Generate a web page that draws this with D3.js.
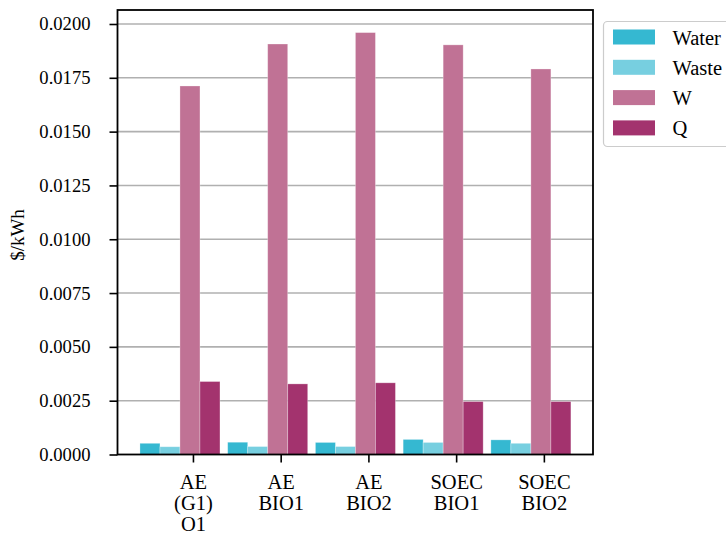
<!DOCTYPE html>
<html>
<head>
<meta charset="utf-8">
<script src="https://cdn.jsdelivr.net/npm/d3@7/dist/d3.min.js"></script>
<style>
  html, body { margin: 0; padding: 0; background: #fff; }
  svg { display: block; }
  svg text { font-family: "Liberation Serif", "Times New Roman", Times, "DejaVu Serif", serif !important; }
</style>
</head>
<body>
<svg id="chart" width="726" height="536"></svg>
<script>
// Cost components per configuration ($/kWh)
const categories = [["AE", "(G1)", "O1"], ["AE", "BIO1"], ["AE", "BIO2"], ["SOEC", "BIO1"], ["SOEC", "BIO2"]];
const seriesNames = ["Water", "Waste", "W", "Q"];
const water = [0.00052, 0.00057, 0.00056, 0.00070, 0.00068];
const waste = [0.00036, 0.00037, 0.00037, 0.00056, 0.00052];
const wCost = [0.01712, 0.01907, 0.01960, 0.01903, 0.01791];
const qCost = [0.00339, 0.00328, 0.00333, 0.00246, 0.00246];
const yTicks = [0, 0.0025, 0.005, 0.0075, 0.01, 0.0125, 0.015, 0.0175, 0.02];
const colors = ["#35b8d1", "#77cfe0", "#c07295", "#a3336e"];

const series = [water, waste, wCost, qCost];
const serif = "'Liberation Serif', 'Times New Roman', Times, 'DejaVu Serif', serif";

const svg = d3.select("#chart").attr("font-family", serif);
const plotL = 117.5, plotR = 593, plotT = 10, plotB = 454.5;

const x = d3.scaleLinear().domain([-0.86, 4.56]).range([plotL, plotR]);
const y = d3.scaleLinear().domain([0, 0.02065]).range([plotB, plotT]);

const barW = 0.228;        // bar width in category units
const groupStart = -0.604; // left edge of the first bar relative to the tick

// horizontal grid
svg.append("g")
  .selectAll("line")
  .data(yTicks.filter(d => d > 0))
  .join("line")
  .attr("x1", plotL).attr("x2", plotR)
  .attr("y1", d => y(d)).attr("y2", d => y(d))
  .attr("stroke", "#b0b0b0")
  .attr("stroke-width", 1.6);

// bars
series.forEach((vals, si) => {
  svg.append("g")
    .selectAll("rect")
    .data(vals)
    .join("rect")
    .attr("x", (d, i) => x(i + groupStart + si * barW))
    .attr("width", x(barW) - x(0))
    .attr("y", d => y(d))
    .attr("height", d => y(0) - y(d))
    .attr("fill", colors[si])
    .attr("stroke", "#ffffff")
    .attr("stroke-opacity", 0.35)
    .attr("stroke-width", 0.8);
});

// y axis
const yAxis = d3.axisLeft(y)
  .tickValues(yTicks)
  .tickFormat(d3.format(".4f"))
  .tickSize(8)
  .tickPadding(19);
const gy = svg.append("g").attr("transform", `translate(${plotL},0)`).call(yAxis)
  .attr("font-family", serif).attr("font-size", 18.6);
gy.select(".domain").remove();
gy.selectAll(".tick line").attr("stroke", "#000").attr("stroke-width", 1.6);
gy.selectAll(".tick text").attr("fill", "#000");

// x axis
const xAxis = d3.axisBottom(x)
  .tickValues(d3.range(categories.length))
  .tickFormat("")
  .tickSize(8);
const gx = svg.append("g").attr("transform", `translate(0,${plotB})`).call(xAxis)
  .attr("font-family", serif).attr("font-size", 20.5);
gx.select(".domain").remove();
gx.selectAll(".tick line").attr("stroke", "#000").attr("stroke-width", 1.6);
gx.selectAll(".tick").each(function(d, i) {
  const t = d3.select(this).append("text")
    .attr("text-anchor", "middle")
    .attr("fill", "#000");
  categories[i].forEach((line, li) => {
    t.append("tspan").attr("x", 0).attr("y", 34.5 + li * 21).text(line);
  });
});

// frame
svg.append("rect")
  .attr("x", plotL).attr("y", plotT)
  .attr("width", plotR - plotL).attr("height", plotB - plotT)
  .attr("fill", "none")
  .attr("stroke", "#000")
  .attr("stroke-width", 1.8);

// y label
svg.append("text")
  .attr("transform", "translate(24,235) rotate(-90)")
  .attr("text-anchor", "middle")
  .attr("font-size", 19)
  .attr("fill", "#000")
  .text("$/kWh");

// legend
const lg = svg.append("g");
lg.append("rect")
  .attr("x", 603.5).attr("y", 21.5)
  .attr("width", 140).attr("height", 125)
  .attr("rx", 4)
  .attr("fill", "#fff")
  .attr("fill-opacity", 0.8)
  .attr("stroke", "#cccccc")
  .attr("stroke-width", 1.2);
seriesNames.forEach((name, i) => {
  const yy = 29.5 + i * 30.3;
  lg.append("rect")
    .attr("x", 613).attr("y", yy)
    .attr("width", 42).attr("height", 15)
    .attr("fill", colors[i]);
  lg.append("text")
    .attr("x", 672.5).attr("y", yy + 15)
    .attr("font-size", 20.5)
    .attr("fill", "#000")
    .text(name);
});
</script>
</body>
</html>
